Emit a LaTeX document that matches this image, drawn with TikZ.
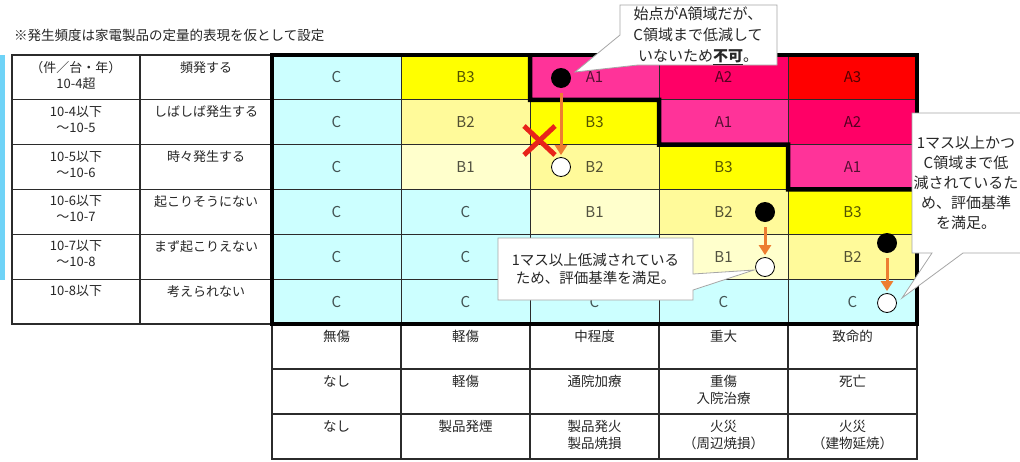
\documentclass[tikz,border=0pt]{standalone}
\usepackage{fontspec}
\setmainfont{Noto Sans CJK JP}
\usetikzlibrary{arrows.meta}
\definecolor{cC}{HTML}{CCFFFF}
\definecolor{cBa}{HTML}{FFFFCC}
\definecolor{cBb}{HTML}{FFFA9A}
\definecolor{cBc}{HTML}{FFFF00}
\definecolor{cAa}{HTML}{FF3399}
\definecolor{cAb}{HTML}{FF0066}
\definecolor{cAc}{HTML}{FF0000}
\definecolor{tline}{HTML}{2B2B2B}
\definecolor{callgray}{HTML}{A6A6A6}
\definecolor{arrorange}{HTML}{ED7D31}
\definecolor{xred}{HTML}{E8231A}
\definecolor{barblue}{HTML}{6FD3F7}
\begin{document}
\begin{tikzpicture}[x=1pt,y=-1pt,
 cell/.style={draw=tline, line width=1pt, minimum width=129pt, minimum height=44.83pt, inner sep=0pt, outer sep=0pt, font=\fontsize{15}{18}\selectfont, text=black, text opacity=0.68},
 tcell/.style={draw=tline, line width=1.2pt, minimum height=44.83pt, inner sep=0pt, outer sep=0pt},
 ttext/.style={anchor=north, inner sep=0pt, align=center, text=black!85, font=\fontsize{13}{16}\selectfont},
 btext/.style={ttext, font=\fontsize{13.5}{17}\selectfont},
 thickline/.style={line width=4.5pt, draw=black, line join=miter},
 bdot/.style={circle, fill=black, minimum size=20pt, inner sep=0pt},
 wdot/.style={circle, draw=black, fill=white, line width=0.8pt, minimum size=19pt, inner sep=0pt},
 oarrow/.style={draw=arrorange, line width=3pt, -{Triangle[length=10pt,width=12pt]}, shorten <=5pt, shorten >=2pt},
 callout/.style={draw=callgray, fill=white, line width=0.8pt, line join=miter},
 calltext/.style={align=center, inner sep=0pt, text=black!85},
 xmark/.style={draw=xred, line width=5pt},
]
\useasboundingbox (0,0) rectangle (1020,461);
\fill[white] (0,0) rectangle (1020,461);
\fill[barblue] (0,55) rectangle (4.5,280);

\node[anchor=west, inner sep=0pt, text=black!85, font=\fontsize{13.5}{16}\selectfont] (note) at (14,35) {※発生頻度は家電製品の定量的表現を仮として設定};

% risk matrix cells (row 5, column 3 is hidden behind a callout)
\foreach \r/\c/\t/\f in {
 1/1/C/cC, 1/2/B3/cBc, 1/3/A1/cAa, 1/4/A2/cAb, 1/5/A3/cAc,
 2/1/C/cC, 2/2/B2/cBb, 2/3/B3/cBc, 2/4/A1/cAa, 2/5/A2/cAb,
 3/1/C/cC, 3/2/B1/cBa, 3/3/B2/cBb, 3/4/B3/cBc, 3/5/A1/cAa,
 4/1/C/cC, 4/2/C/cC, 4/3/B1/cBa, 4/4/B2/cBb, 4/5/B3/cBc,
 5/1/C/cC, 5/2/C/cC, 5/3/{}/cC, 5/4/B1/cBa, 5/5/B2/cBb,
 6/1/C/cC, 6/2/C/cC, 6/3/C/cC, 6/4/C/cC, 6/5/C/cC}
 \node[cell, fill=\f] (m\r\c) at ({272+129*(\c-0.5)}, {55+44.83*(\r-0.5)}) {\t};

% left table
\foreach \r/\a/\b in {
 1/{（件／台・年）\\10-4超}/{頻発する},
 2/{10-4以下\\～10-5}/{しばしば発生する},
 3/{10-5以下\\～10-6}/{時々発生する},
 4/{10-6以下\\～10-7}/{起こりそうにない},
 5/{10-7以下\\～10-8}/{まず起こりえない},
 6/{10-8以下}/{考えられない}}
{
 \node[tcell, minimum width=128pt] (la\r) at (76, {55+44.83*(\r-0.5)}) {};
 \node[tcell, minimum width=132pt] (lb\r) at (206, {55+44.83*(\r-0.5)}) {};
 \node[ttext] (lta\r) at ([yshift=-6pt]la\r.north) {\a};
 \node[ttext] (ltb\r) at ([yshift=-6pt]lb\r.north) {\b};
}

% bottom table
\foreach \r/\c/\t in {
 1/1/{無傷}, 1/2/{軽傷}, 1/3/{中程度}, 1/4/{重大}, 1/5/{致命的},
 2/1/{なし}, 2/2/{軽傷}, 2/3/{通院加療}, 2/4/{重傷\\入院治療}, 2/5/{死亡},
 3/1/{なし}, 3/2/{製品発煙}, 3/3/{製品発火\\製品焼損}, 3/4/{火災\\（周辺焼損）}, 3/5/{火災\\（建物延焼）}}
{
 \node[tcell, minimum width=129pt, minimum height=45pt] (s\r\c) at ({272+129*(\c-0.5)}, {324+45*(\r-0.5)}) {};
 \node[btext] (st\r\c) at ([yshift=-6pt]s\r\c.north) {\t};
}

% thick borders
\draw[thickline] (m11.north west) rectangle (m65.south east);
\draw[thickline] (m13.north west) -- (m13.south west) -- (m23.north east) -- (m23.south east)
  -- (m34.north east) -- (m34.south east) -- (m35.south east);

% reduction markers
\node[bdot] (b1) at (561,78) {};
\node[wdot] (w1) at (561,167) {};
\node[bdot] (b2) at (765,212) {};
\node[wdot] (w2) at (765,267) {};
\node[bdot] (b3) at (887,243) {};
\node[wdot] (w3) at (887,303) {};
\draw[oarrow] (b1) -- (w1);
\draw[oarrow] (b2) -- (w2);
\draw[oarrow] (b3) -- (w3);

% red cross
\draw[xmark] (524,126) -- (555,155);
\draw[xmark] (555,126) -- (524,155);

% callouts
\draw[callout] (620,5) -- (777,5) -- (777,65) -- (638,65) -- (575,72) -- (620,35) -- cycle;
\node[calltext, font=\fontsize{15}{21}\selectfont] (t1) at (698,35.5) {始点がA領域だが、\\C領域まで低減して\\いないため\underline{\textbf{不可}}。};

\draw[callout] (498,238) -- (693,238) -- (693,274) -- (754,270) -- (693,290) -- (693,300) -- (498,300) -- cycle;
\node[calltext, font=\fontsize{14.5}{18.5}\selectfont] (t2) at (595.5,269) {1マス以上低減されている\\ため、評価基準を満足。};

\draw[callout] (912,113) -- (1030,113) -- (1030,253) -- (963,253) -- (902,298) -- (932,253) -- (912,253) -- cycle;
\node[calltext, font=\fontsize{15}{20}\selectfont] (t3) at (966,183) {1マス以上かつ\\C領域まで低\\減されているた\\め、評価基準\\を満足。};
\end{tikzpicture}
\end{document}
